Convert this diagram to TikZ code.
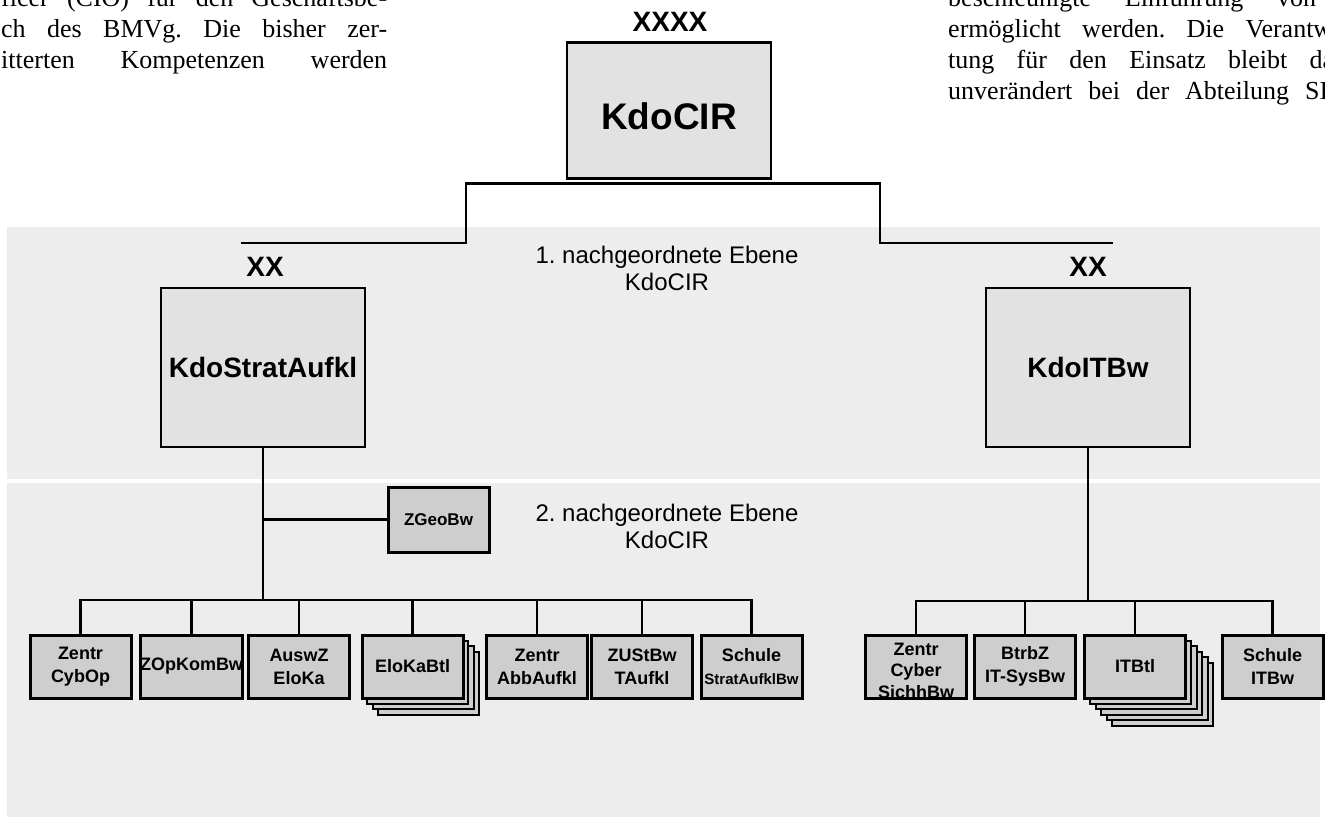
\documentclass[tikz,border=0pt]{standalone}
\usepackage{fontspec}
\setmainfont{Liberation Serif}
\setsansfont{Liberation Sans}
\usetikzlibrary{calc}
\definecolor{bandgray}{HTML}{EDEDED}
\definecolor{cmdgray}{HTML}{E2E2E2}
\definecolor{unitgray}{HTML}{CECECE}
\newcommand{\labfont}[2]{\sffamily\bfseries\fontsize{#1}{#2}\selectfont}
\frenchspacing
\begin{document}
\begin{tikzpicture}[x=1pt,y=-1pt,
    cmdbox/.style={draw,line width=2.6pt,fill=cmdgray,minimum width=204pt,minimum height=159pt,inner sep=0pt,outer sep=0pt,font=\labfont{28}{30}},
    unitbox/.style={draw,line width=3pt,fill=unitgray,minimum width=101pt,minimum height=63pt,inner sep=0pt,outer sep=0pt,align=center,font=\labfont{18}{23}},
    stackbox/.style={draw,line width=2pt,fill=unitgray},
    conn/.style={line width=2.8pt},
    rank/.style={inner sep=0pt,font=\labfont{28}{30}},
    level/.style={inner sep=0pt,align=center,font=\sffamily\fontsize{24}{27}\selectfont},
    body/.style={inner sep=0pt,anchor=base west,font=\fontsize{26}{31}\selectfont}]
    \useasboundingbox (0,0) rectangle (1325,833);
    \clip (0,0) rectangle (1325,833);
    % Fliesstext links und rechts, vom Bildrand angeschnitten
    \foreach \txt [count=\i] in {{ficer (CIO) für den Geschäftsbe-},{ch des BMVg. Die bisher zer-},{itterten Kompetenzen werden}}
        \node[body] (textl\i) at (1,{31*\i-25}) {\makebox[386pt][s]{\txt}};
    \foreach \txt/\len [count=\i] in {{beschleunigte Einführung von}/368,{ermöglicht werden. Die Verantw}/384,{tung für den Einsatz bleibt da}/386,{unverändert bei der Abteilung SI}/380}
        \node[body] (textr\i) at (948,{31*\i-25}) {\makebox[\len pt][s]{\txt}};
    % Ebenen
    \fill[bandgray] (7,227) rectangle (1320,479);
    \fill[bandgray] (7,483) rectangle (1320,817);
    \node[level] (ebene1) at (667,268) {1. nachgeordnete Ebene\\KdoCIR};
    \node[level] (ebene2) at (667,526) {2. nachgeordnete Ebene\\KdoCIR};
    % Kommandos
    \node[rank] (rankcir) at (670,22) {XXXX};
    \node[cmdbox,minimum height=136pt,font=\labfont{37}{40}] (cir) at (669,110.5) {\raisebox{-19pt}[0pt][0pt]{KdoCIR}};
    \node[rank] (rankstr) at (265,267) {XX};
    \node[cmdbox] (str) at (263,367.5) {KdoStratAufkl};
    \node[rank] (rankitb) at (1088,267) {XX};
    \node[cmdbox] (itb) at (1088,367.5) {KdoITBw};
    \coordinate (armL) at (241,243);
    \coordinate (armR) at (1113,243);
    \draw[conn] (armL) -| ($(cir.south)+(-203,5)$) -- ($(cir.south)+(211,5)$) |- (armR);
    % Stapel hinter EloKaBtl und ITBtl
    \foreach \k in {3,2,1}
        \draw[stackbox] ({361.5+5.5*\k},{635+5.5*\k}) rectangle ++(101,63);
    \foreach \k in {5,4,3,2,1}
        \draw[stackbox] ({1084.5+5.5*\k},{635+5.5*\k}) rectangle ++(101,63);
    % Dienststellen KdoStratAufkl
    \node[unitbox,minimum height=65pt,font=\labfont{17}{20}] (zgeo) at (438.5,519.5) {ZGeoBw};
    \foreach \nm/\cx/\txt in {zco/80.5/{Zentr\\CybOp},zok/191.5/ZOpKomBw,asz/299/{AuswZ\\EloKa},ekb/412.5/EloKaBtl,zaa/537/{Zentr\\AbbAufkl},zus/642/{ZUStBw\\TAufkl},ssa/751.5/{Schule\\{\fontsize{15}{18}\selectfont StratAufklBw}}}
        \node[unitbox] (\nm) at (\cx,666.5) {\txt};
    \coordinate (busL) at (0,600);
    \draw[conn] (str.south) -- (str.south |- busL);
    \draw[conn] (zgeo.west) -- (zgeo.west -| str.south);
    \draw[conn] (zco.north) -- (zco.north |- busL) -- (ssa.north |- busL) -- (ssa.north);
    \foreach \nm in {zok,asz,ekb,zaa,zus}
        \draw[conn] (\nm.north) -- (\nm.north |- busL);
    % Dienststellen KdoITBw
    \node[unitbox] (zcs) at (916,666.5) {};
    \node[inner sep=0pt,align=center,font=\labfont{18}{21.5}] (zcstext) at ([yshift=-4pt]zcs.center) {Zentr\\Cyber\\SichhBw};
    \draw[line width=3pt] (zcs.south west) -- (zcs.south east);
    \node[unitbox] (bzi) at (1025,666.5) {BtrbZ\\IT-SysBw};
    \node[unitbox] (itl) at (1135,666.5) {ITBtl};
    \node[unitbox] (sit) at (1272.5,666.5) {Schule\\ITBw};
    \coordinate (busR) at (0,601);
    \draw[conn] (itb.south) -- (itb.south |- busR);
    \draw[conn] (zcs.north) -- (zcs.north |- busR) -- (sit.north |- busR) -- (sit.north);
    \foreach \nm in {bzi,itl}
        \draw[conn] (\nm.north) -- (\nm.north |- busR);
\end{tikzpicture}
\end{document}
